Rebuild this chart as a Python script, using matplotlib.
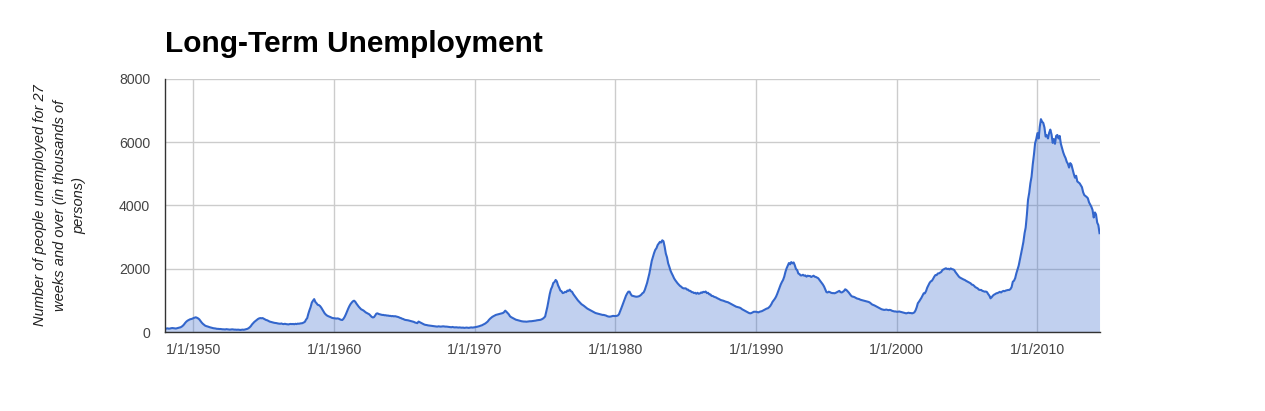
import matplotlib
matplotlib.use("Agg")
import matplotlib.pyplot as plt
import pandas as pd
import datetime as dt

# Persons unemployed 27 weeks and over, thousands, monthly from Jan 1948
long_term_unemployed = [
    # 1948
    95, 110, 115, 105, 110, 120, 125, 120, 115, 110, 120, 130,
    # 1949
    140, 150, 170, 200, 240, 290, 330, 360, 380, 400, 410, 420,
    # 1950
    440, 455, 465, 450, 430, 400, 350, 300, 260, 230, 200, 185,
    # 1951
    175, 160, 150, 140, 130, 120, 115, 110, 100, 100, 95, 95,
    # 1952
    90, 85, 85, 80, 90, 85, 80, 75, 80, 85, 80, 75,
    # 1953
    75, 70, 75, 70, 65, 70, 75, 70, 80, 90, 100, 120,
    # 1954
    150, 190, 240, 280, 320, 350, 380, 410, 430, 440, 435, 440,
    # 1955
    420, 400, 380, 370, 350, 330, 320, 310, 300, 290, 285, 280,
    # 1956
    270, 265, 260, 270, 255, 250, 260, 250, 245, 240, 250, 255,
    # 1957
    250, 255, 245, 260, 250, 265, 260, 270, 275, 280, 300, 320,
    # 1958
    390, 440, 570, 690, 790, 930, 990, 1040, 950, 910, 860, 850,
    # 1959
    820, 770, 710, 650, 590, 550, 520, 500, 485, 470, 450, 440,
    # 1960
    435, 430, 425, 430, 420, 400, 385, 380, 420, 480, 560, 650,
    # 1961
    740, 820, 880, 930, 970, 990, 960, 900, 850, 800, 760, 720,
    # 1962
    700, 680, 650, 620, 600, 580, 560, 520, 480, 460, 470, 520,
    # 1963
    580, 590, 570, 560, 550, 540, 540, 530, 530, 520, 520, 510,
    # 1964
    510, 500, 505, 495, 500, 490, 480, 470, 450, 440, 420, 410,
    # 1965
    390, 380, 375, 370, 360, 350, 340, 330, 320, 300, 290, 280,
    # 1966
    330, 310, 290, 270, 250, 235, 225, 220, 210, 205, 200, 195,
    # 1967
    190, 185, 180, 175, 170, 180, 175, 170, 175, 180, 175, 170,
    # 1968
    170, 165, 160, 155, 150, 160, 150, 145, 150, 145, 140, 145,
    # 1969
    140, 135, 140, 130, 135, 140, 135, 130, 140, 145, 140, 145,
    # 1970
    150, 160, 165, 175, 185, 200, 210, 230, 250, 270, 300, 330,
    # 1971
    380, 420, 450, 480, 500, 520, 540, 550, 560, 570, 580, 590,
    # 1972
    600, 630, 675, 640, 600, 560, 500, 470, 450, 430, 410, 390,
    # 1973
    380, 370, 360, 350, 340, 335, 330, 330, 325, 330, 335, 340,
    # 1974
    340, 345, 350, 355, 360, 370, 375, 380, 385, 400, 420, 450,
    # 1975
    490, 650, 800, 1000, 1200, 1350, 1430, 1550, 1580, 1646, 1600, 1480,
    # 1976
    1400, 1310, 1290, 1230, 1240, 1270, 1260, 1310, 1300, 1340, 1290, 1270,
    # 1977
    1200, 1150, 1100, 1050, 1000, 960, 920, 880, 855, 830, 800, 770,
    # 1978
    740, 720, 700, 680, 660, 640, 620, 600, 590, 580, 570, 560,
    # 1979
    550, 540, 540, 530, 520, 500, 490, 485, 490, 500, 510, 505,
    # 1980
    505, 510, 520, 560, 650, 750, 850, 950, 1050, 1150, 1220, 1275,
    # 1981
    1275, 1200, 1150, 1140, 1130, 1120, 1115, 1120, 1130, 1150, 1180, 1225,
    # 1982
    1250, 1330, 1435, 1550, 1700, 1855, 2050, 2250, 2380, 2500, 2600, 2650,
    # 1983
    2750, 2800, 2850, 2830, 2900, 2870, 2700, 2480, 2360, 2170, 2060, 1940,
    # 1984
    1855, 1780, 1700, 1640, 1590, 1540, 1500, 1460, 1435, 1400, 1380, 1380,
    # 1985
    1380, 1340, 1340, 1300, 1300, 1260, 1260, 1230, 1240, 1210, 1240, 1210,
    # 1986
    1220, 1250, 1240, 1270, 1260, 1280, 1230, 1240, 1190, 1190, 1140, 1140,
    # 1987
    1115, 1100, 1090, 1065, 1050, 1030, 1010, 1000, 990, 975, 960, 950,
    # 1988
    940, 920, 900, 880, 860, 840, 820, 800, 790, 780, 770, 750,
    # 1989
    720, 700, 680, 660, 640, 620, 600, 590, 600, 620, 640, 640,
    # 1990
    640, 630, 620, 640, 650, 660, 680, 700, 720, 740, 750, 780,
    # 1991
    820, 880, 950, 1000, 1050, 1115, 1200, 1300, 1400, 1500, 1580, 1645,
    # 1992
    1750, 1900, 2010, 2100, 2180, 2140, 2210, 2170, 2200, 2110, 1990, 1960,
    # 1993
    1850, 1830, 1790, 1790, 1810, 1780, 1790, 1750, 1780, 1770, 1770, 1740,
    # 1994
    1760, 1780, 1750, 1740, 1720, 1700, 1650, 1600, 1550, 1500, 1435, 1350,
    # 1995
    1260, 1250, 1275, 1260, 1240, 1230, 1230, 1225, 1240, 1260, 1280, 1300,
    # 1996
    1260, 1250, 1270, 1300, 1350, 1330, 1290, 1250, 1200, 1150, 1120, 1115,
    # 1997
    1100, 1080, 1060, 1050, 1040, 1020, 1010, 1000, 990, 980, 970, 960,
    # 1998
    950, 930, 900, 870, 855, 840, 820, 800, 780, 760, 740, 720,
    # 1999
    710, 700, 700, 710, 700, 690, 700, 690, 670, 660, 650, 650,
    # 2000
    640, 640, 650, 640, 630, 620, 610, 600, 590, 600, 610, 600,
    # 2001
    600, 590, 600, 620, 680, 780, 910, 960, 1020, 1080, 1150, 1225,
    # 2002
    1225, 1300, 1400, 1480, 1550, 1600, 1620, 1680, 1750, 1800, 1800, 1850,
    # 2003
    1855, 1880, 1900, 1960, 1980, 2000, 2015, 1990, 2000, 1980, 2010, 1990,
    # 2004
    1980, 1960, 1900, 1850, 1800, 1750, 1720, 1700, 1680, 1660, 1645, 1620,
    # 2005
    1600, 1580, 1560, 1540, 1500, 1490, 1460, 1420, 1400, 1380, 1340, 1330,
    # 2006
    1330, 1300, 1290, 1275, 1280, 1260, 1200, 1150, 1065, 1100, 1150, 1180,
    # 2007
    1200, 1225, 1230, 1250, 1270, 1250, 1280, 1300, 1290, 1310, 1320, 1330,
    # 2008
    1330, 1360, 1420, 1590, 1620, 1700, 1850, 1980, 2100, 2280, 2450, 2650,
    # 2009
    2850, 3125, 3300, 3700, 4180, 4400, 4700, 4915, 5300, 5600, 5970, 6100,
    # 2010
    6290, 6120, 6480, 6730, 6650, 6610, 6470, 6180, 6220, 6120, 6300, 6400,
    # 2011
    6250, 5980, 6100, 5950, 6200, 6230, 6120, 6200, 5950, 5820, 5680, 5580,
    # 2012
    5500, 5380, 5320, 5200, 5340, 5290, 5150, 5000, 4880, 4940, 4760, 4730,
    # 2013
    4700, 4640, 4580, 4420, 4330, 4300, 4270, 4230, 4100, 4030, 3960, 3860,
    # 2014
    3620, 3780, 3720, 3460, 3380, 3125,
]
start_month = "1948-01-01"
tick_years = [1950, 1960, 1970, 1980, 1990, 2000, 2010]
tick_labels = [f"1/1/{y}" for y in tick_years]
y_ticks = [0, 2000, 4000, 6000, 8000]

dates = pd.date_range(start_month, periods=len(long_term_unemployed), freq="MS")

plt.rcParams["font.family"] = ["Liberation Sans", "DejaVu Sans"]

fig = plt.figure(figsize=(12.65, 4.11), dpi=100)
ax = fig.add_axes([0.1307, 0.1922, 0.7385, 0.6156])

line_color = "#3366cc"
ax.fill_between(dates, long_term_unemployed, 0, color=line_color, alpha=0.3,
                linewidth=0)
ax.plot(dates, long_term_unemployed, color=line_color, linewidth=1.5)

ax.set_xlim(dates[0], dates[-1])
ax.set_ylim(0, 8000)
ax.set_yticks(y_ticks)
ax.set_yticklabels([str(v) for v in y_ticks])
ax.set_xticks([dt.datetime(y, 1, 1) for y in tick_years])
ax.set_xticklabels(tick_labels)

ax.grid(True, color="#cccccc", linewidth=1)
ax.set_axisbelow(True)
ax.tick_params(length=0, labelsize=10.2, colors="#444444")
ax.tick_params(axis="y", pad=11)
ax.tick_params(axis="x", pad=8)

for side in ("top", "right"):
    ax.spines[side].set_visible(False)
for side in ("left", "bottom"):
    ax.spines[side].set_color("#333333")
    ax.spines[side].set_linewidth(1)

fig.text(0.1304, 0.893, "Long-Term Unemployment", fontsize=21.5, fontweight="bold",
         color="black", ha="left", va="center")

fig.text(0.0474, 0.501,
         "Number of people unemployed for 27\nweeks and over (in thousands of\npersons)",
         fontsize=10.5, style="italic", color="#222222", linespacing=1.5,
         rotation=90, ha="center", va="center", multialignment="center")

fig.savefig("out.png", dpi=100, facecolor="white")
